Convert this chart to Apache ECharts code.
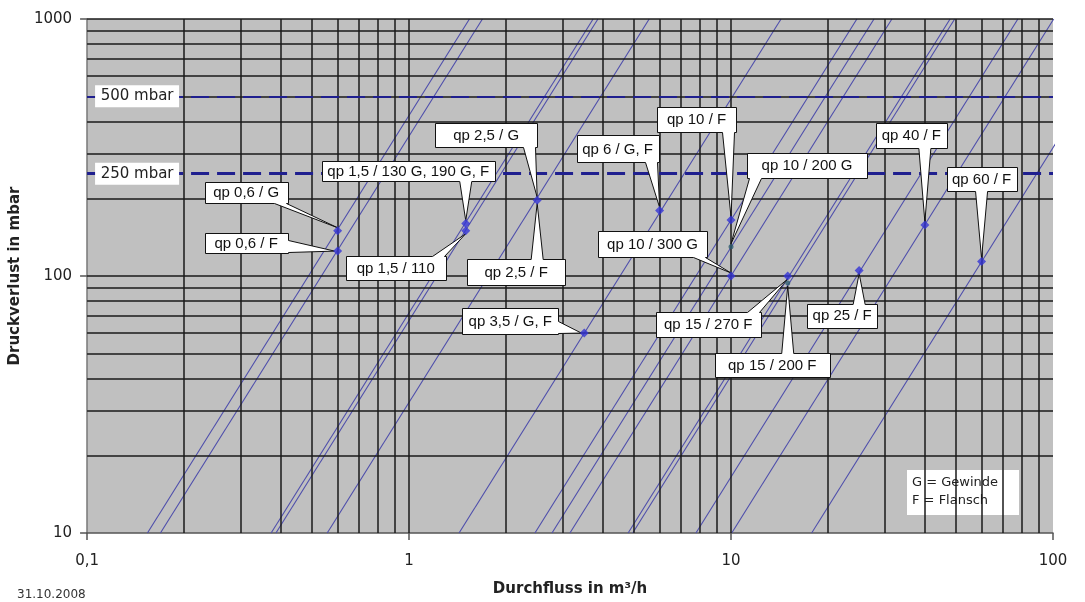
<!DOCTYPE html>
<html>
<head>
<meta charset="utf-8">
<script src="https://cdn.jsdelivr.net/npm/echarts@6/dist/echarts.min.js"></script>
<style>
  html, body { margin: 0; padding: 0; background: #ffffff; }
  #chart { width: 1085px; height: 602px; }
</style>
</head>
<body>
<div id="chart"></div>
<script>
// ---------------- DATA ----------------
// x (flow, m³/h) where each characteristic line crosses 10 mbar and 1000 mbar
const curveStartQ = [0.154, 0.169, 0.373, 0.386, 0.557, 1.43, 2.46, 2.78, 3.16, 4.79, 4.95, 7.78, 10.05, 17.8];
const curveEndQ   = [1.54, 1.69, 3.73, 3.86, 5.57, 14.3, 24.6, 27.8, 31.6, 47.9, 49.5, 77.8, 100.5, 178];
const curveStartDp = [10, 10, 10, 10, 10, 10, 10, 10, 10, 10, 10, 10, 10, 10];
const curveEndDp   = [1000, 1000, 1000, 1000, 1000, 1000, 1000, 1000, 1000, 1000, 1000, 1000, 1000, 1000];

// marked operating points
const markerQ  = [0.6, 0.6, 1.5, 1.5, 2.5, 3.5, 6, 10, 10, 15, 25, 40, 60];
const markerDp = [150, 125, 160, 150, 197, 60, 180, 165, 100, 100, 105, 158, 114];
const smallMarkerQ  = [10, 15];
const smallMarkerDp = [130, 94];

// callouts
const calloutText = ['qp 0,6 / G', 'qp 0,6 / F', 'qp 1,5 / 130 G, 190 G, F', 'qp 1,5 / 110',
  'qp 2,5 / G', 'qp 2,5 / F', 'qp 3,5 / G, F', 'qp 6 / G, F', 'qp 10 / F', 'qp 10 / 200 G',
  'qp 10 / 300 G', 'qp 15 / 270 F', 'qp 15 / 200 F', 'qp 25 / F', 'qp 40 / F', 'qp 60 / F'];
const calloutQ  = [0.6, 0.6, 1.5, 1.5, 2.5, 2.5, 3.5, 6, 10, 10, 10, 15, 15, 25, 40, 60];
const calloutDp = [150, 125, 160, 150, 197, 197, 60, 180, 165, 130, 100, 100, 94, 105, 158, 114];

// reference pressure lines
const refDp = [500, 250];
const refLabels = ['500 mbar', '250 mbar'];

// grid values and tick labels
const xGridValues = [0.2, 0.3, 0.4, 0.5, 0.6, 0.7, 0.8, 0.9, 1, 2, 3, 4, 5, 6, 7, 8, 9, 10, 20, 30, 40, 50, 60, 70, 80, 90];
const yGridValues = [20, 30, 40, 50, 60, 70, 80, 90, 100, 200, 300, 400, 500, 600, 700, 800, 900, 1000];
const xMin = 0.1, xMax = 100, yMin = 10, yMax = 1000;
const xTitle = 'Durchfluss in m³/h';
const yTitle = 'Druckverlust in mbar';
const dateText = '31.10.2008';
const legendLines = ['G = Gewinde', 'F = Flansch'];

// ---------------- LAYOUT (pixel offsets of callout boxes relative to their point) ----------------
const calloutLayout = [
  {dx: -91.5, dy: -38.5, w: 83, h: 21},
  {dx: -91.5, dy: -8, w: 83, h: 20},
  {dx: -57.5, dy: -52.5, w: 173, h: 20},
  {dx: -70, dy: 37.5, w: 100, h: 24},
  {dx: -51, dy: -65, w: 102, h: 24},
  {dx: -21, dy: 72, w: 98, h: 26},
  {dx: -74, dy: -12, w: 96, h: 26},
  {dx: -42, dy: -61.5, w: 82, h: 27},
  {dx: -34.5, dy: -100.5, w: 79, h: 25},
  {dx: 76, dy: -81.5, w: 120, h: 25},
  {dx: -78.5, dy: -32, w: 109, h: 26},
  {dx: -79.5, dy: 48.5, w: 105, h: 25},
  {dx: -15.5, dy: 82, w: 115, h: 24},
  {dx: -17, dy: 45, w: 70, h: 24},
  {dx: -13.5, dy: -89.5, w: 71, h: 25},
  {dx: 0, dy: -82, w: 70, h: 24}
];

const chart = echarts.init(document.getElementById('chart'), null, {renderer: 'canvas'});
const gridColor = '#1a1a1a';
const curveColor = '#4d4dab';
const refColor = '#1f1f8f';

function clamp(v, a, b) { return Math.max(a, Math.min(b, v)); }

const series = [];

// grid lines (through axis scales)
series.push({
  type: 'line', data: [], z: 1, silent: true, animation: false,
  markLine: {
    silent: true, symbol: 'none', animation: false,
    label: {show: false},
    lineStyle: {color: gridColor, width: 1.5, type: 'solid'},
    data: xGridValues.map(v => ({xAxis: v})).concat(yGridValues.map(v => ({yAxis: v})))
  }
});

// characteristic lines
curveStartQ.forEach((q, i) => {
  series.push({
    type: 'line', z: 3, silent: true, animation: false, clip: true,
    showSymbol: false, symbol: 'none',
    lineStyle: {color: curveColor, width: 1.1},
    data: [[q, curveStartDp[i]], [curveEndQ[i], curveEndDp[i]]]
  });
});

// reference dashed lines
series.push({
  type: 'line', data: [], z: 4, silent: true, animation: false,
  markLine: {
    silent: true, symbol: 'none', animation: false,
    label: {show: false},
    data: refDp.map((v, i) => ({yAxis: v, lineStyle: {color: refColor, width: i === 0 ? 2 : 3, type: [18, 8]}}))
  }
});

// reference labels
series.push({
  type: 'custom', z: 6, silent: true, animation: false,
  data: refDp.map((v, i) => [xMin, v, i]),
  renderItem: function (params, api) {
    const pt = api.coord([api.value(0), api.value(1)]);
    const i = api.value(2);
    const l = pt[0] + 8, w = 84, h = 22;
    return {
      type: 'group',
      children: [
        {type: 'rect', shape: {x: l, y: pt[1] - h / 2, width: w, height: h}, style: {fill: '#ffffff'}},
        {type: 'text', x: l + w / 2, y: pt[1], style: {text: refLabels[i], fill: '#222', font: '15px "DejaVu Sans"', align: 'center', verticalAlign: 'middle'}}
      ]
    };
  }
});

// callouts
series.push({
  type: 'custom', z: 7, silent: true, animation: false,
  data: calloutQ.map((q, i) => [q, calloutDp[i], i]),
  renderItem: function (params, api) {
    const pt = api.coord([api.value(0), api.value(1)]);
    const i = api.value(2);
    const L = calloutLayout[i];
    const cx = pt[0] + L.dx, cy = pt[1] + L.dy;
    const l = Math.round(cx - L.w / 2) + 0.5, r = Math.round(cx + L.w / 2) + 0.5;
    const t = Math.round(cy - L.h / 2) + 0.5, b = Math.round(cy + L.h / 2) + 0.5;
    const hw = 6;
    let pts;
    if (pt[1] > b) {
      const bx = clamp(pt[0], l + 8, r - 8);
      pts = [[l, t], [r, t], [r, b], [bx + hw, b], [pt[0], pt[1] - 3], [bx - hw, b], [l, b]];
    } else if (pt[1] < t) {
      const bx = clamp(pt[0], l + 8, r - 8);
      pts = [[l, t], [bx - hw, t], [pt[0], pt[1] + 3], [bx + hw, t], [r, t], [r, b], [l, b]];
    } else if (pt[0] > r) {
      const by = clamp(pt[1], t + 7, b - 7);
      pts = [[l, t], [r, t], [r, by - hw], [pt[0] - 3, pt[1]], [r, by + hw], [r, b], [l, b]];
    } else {
      const by = clamp(pt[1], t + 7, b - 7);
      pts = [[l, t], [r, t], [r, b], [l, b], [l, by + hw], [pt[0] + 3, pt[1]], [l, by - hw]];
    }
    return {
      type: 'group',
      children: [
        {type: 'polygon', shape: {points: pts}, style: {fill: '#ffffff', stroke: '#111', lineWidth: 1}},
        {type: 'text', x: cx, y: cy + 0.5, style: {text: calloutText[i], fill: '#111', font: '15px "Liberation Sans", Arial', align: 'center', verticalAlign: 'middle'}}
      ]
    };
  }
});

// markers
series.push({
  type: 'scatter', z: 8, silent: true, animation: false,
  symbol: 'diamond', symbolSize: 9,
  itemStyle: {color: '#3535d6'},
  data: markerQ.map((q, i) => [q, markerDp[i]])
});
series.push({
  type: 'scatter', z: 8, silent: true, animation: false,
  symbol: 'circle', symbolSize: 5,
  itemStyle: {color: '#2d5b6e'},
  data: smallMarkerQ.map((q, i) => [q, smallMarkerDp[i]])
});

const axisFont = '"DejaVu Sans", Verdana, sans-serif';

const option = {
  backgroundColor: '#ffffff',
  animation: false,
  grid: {left: 86, right: 32, top: 19, bottom: 68, show: true, backgroundColor: '#c0c0c0', borderWidth: 0},
  xAxis: {
    type: 'log', logBase: 10, min: xMin, max: xMax,
    name: xTitle, nameLocation: 'middle', nameGap: 49,
    nameTextStyle: {fontFamily: axisFont, fontWeight: 'bold', fontSize: 15, color: '#222'},
    axisLine: {show: true, lineStyle: {color: '#555', width: 1.5}},
    axisTick: {show: true, inside: false, length: 7, lineStyle: {color: '#555', width: 1.5}},
    axisLabel: {margin: 21, fontFamily: axisFont, fontSize: 15, color: '#222',
      formatter: v => String(v).replace('.', ',')},
    splitLine: {show: false},
    minorTick: {show: false}
  },
  yAxis: {
    type: 'log', logBase: 10, min: yMin, max: yMax,
    name: yTitle, nameLocation: 'middle', nameGap: 58, nameRotate: 90,
    nameTextStyle: {fontFamily: axisFont, fontWeight: 'bold', fontSize: 15, color: '#222'},
    axisLine: {show: true, lineStyle: {color: '#777', width: 1.5}},
    axisTick: {show: true, inside: false, length: 7, lineStyle: {color: '#555', width: 1.5}},
    axisLabel: {margin: 15, fontFamily: axisFont, fontSize: 15, color: '#222',
      formatter: v => String(v)},
    splitLine: {show: false},
    minorTick: {show: false}
  },
  graphic: [
    {type: 'text', left: 17, top: 589, style: {text: dateText, font: '12px "DejaVu Sans"', fill: '#333'}},
    {type: 'group', left: 907, top: 470, children: [
      {type: 'rect', shape: {x: 0, y: 0, width: 112, height: 45}, style: {fill: '#ffffff'}},
      {type: 'text', x: 5, y: 13, style: {text: legendLines[0], font: '13px "DejaVu Sans"', fill: '#222', verticalAlign: 'middle'}},
      {type: 'text', x: 5, y: 31, style: {text: legendLines[1], font: '13px "DejaVu Sans"', fill: '#222', verticalAlign: 'middle'}}
    ]}
  ],
  series: series
};
chart.setOption(option);
</script>
</body>
</html>
